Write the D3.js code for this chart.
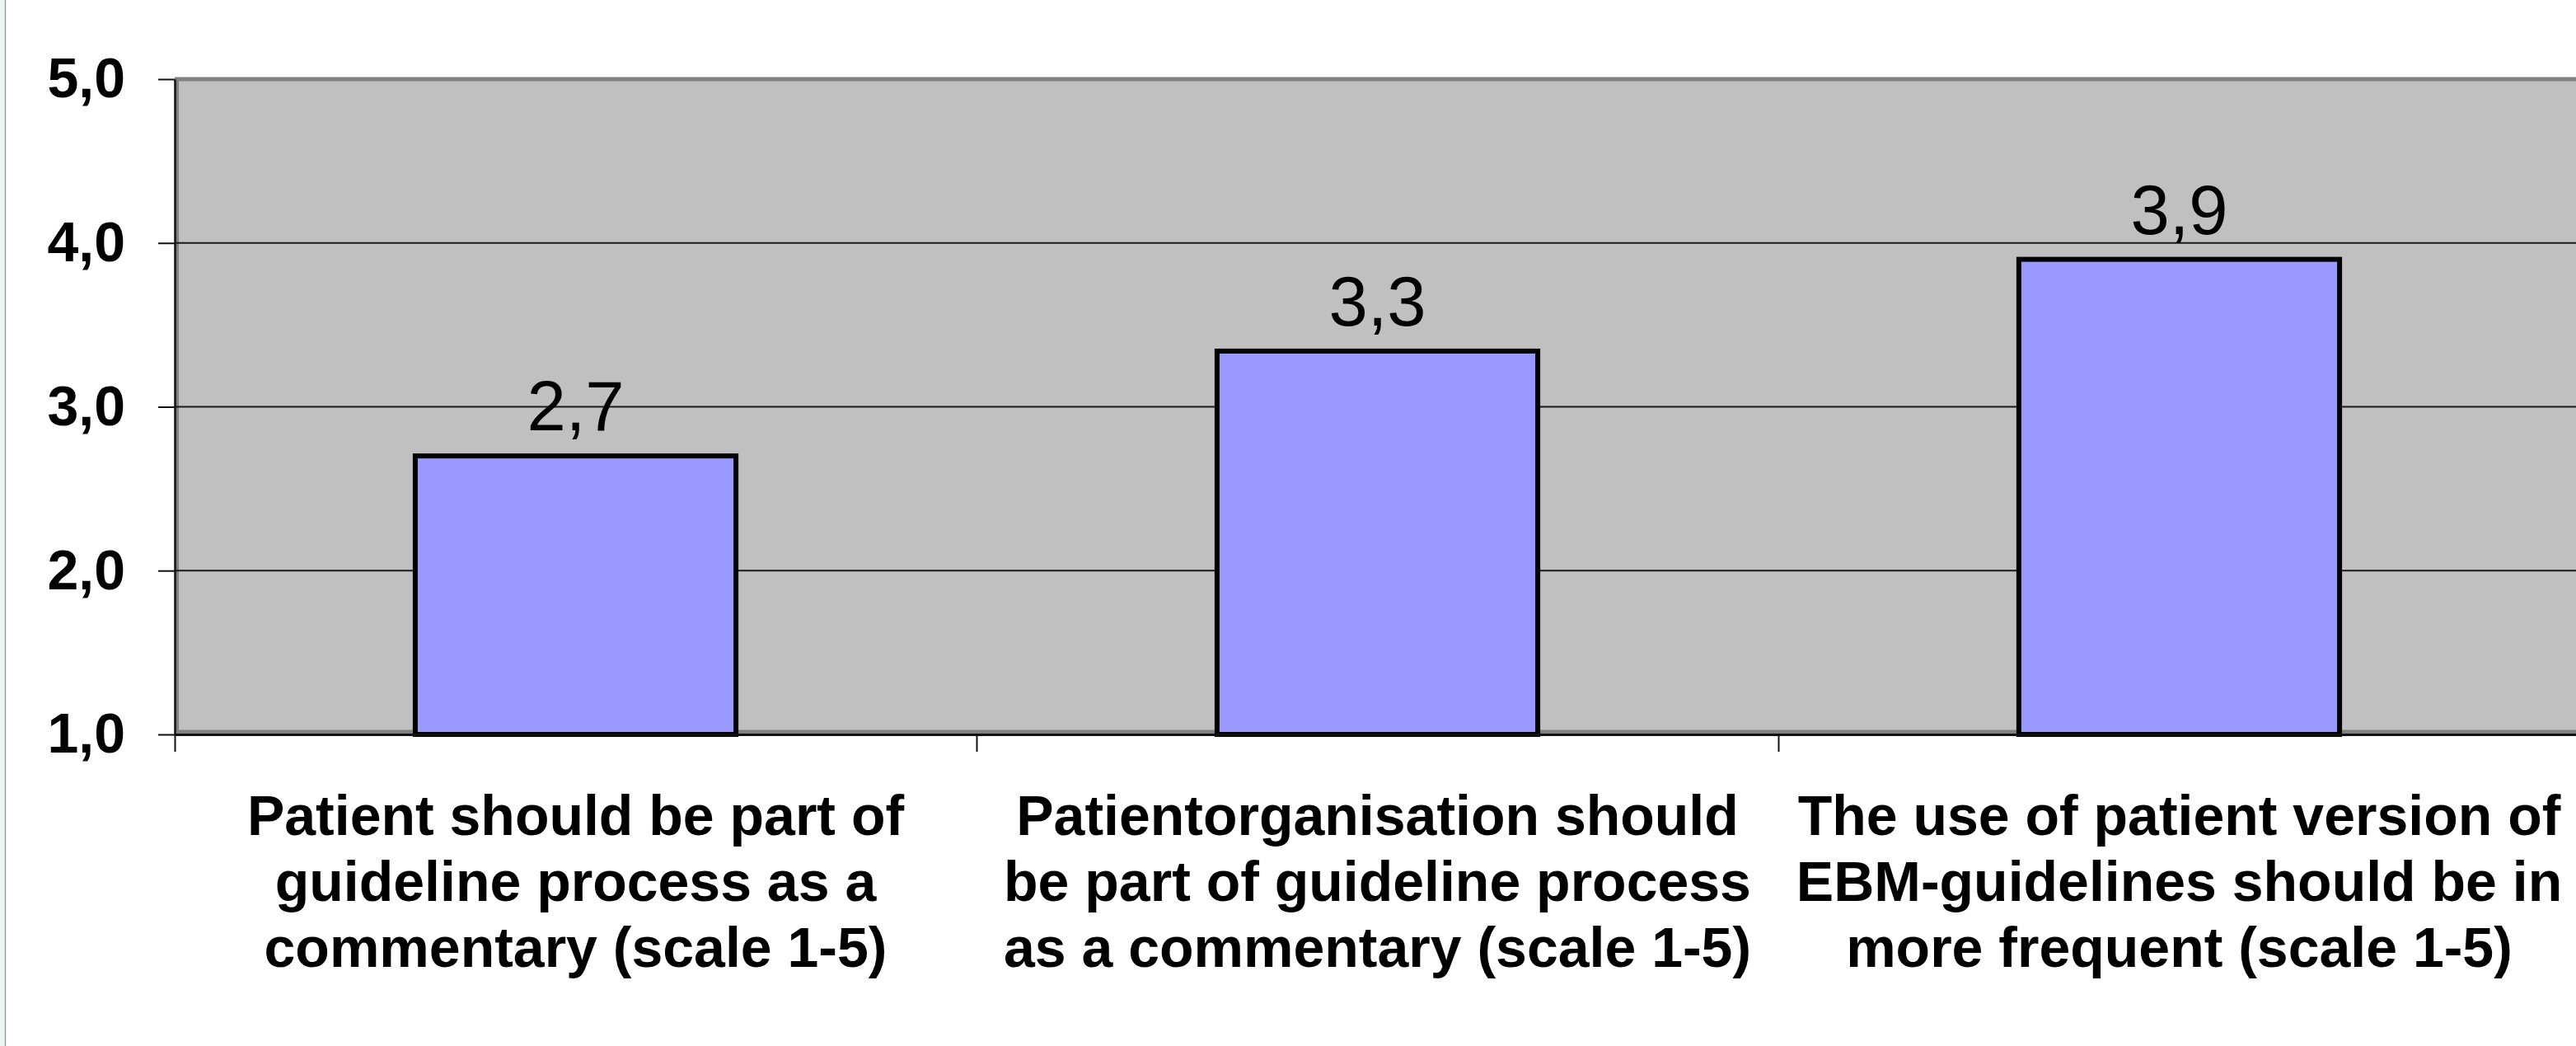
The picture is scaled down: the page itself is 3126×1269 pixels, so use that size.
<!DOCTYPE html>
<html>
<head>
<meta charset="utf-8">
<script src="https://cdn.jsdelivr.net/npm/d3@7"></script>
<style>
  body { margin: 0; background: #fff; }
  svg { display: block; font-family: "Liberation Sans", Arial, sans-serif; }
</style>
</head>
<body>
<svg id="chart" width="3126" height="1269"></svg>
<script>
// chart data
const categories = [
    ["Patient should be part of", "guideline process as a", "commentary (scale 1-5)"],
    ["Patientorganisation should", "be part of guideline process", "as a commentary (scale 1-5)"],
    ["The use of patient version of", "EBM-guidelines should be in", "more frequent (scale 1-5)"]
];
const values = [2.7, 3.34, 3.9];
const yTicks = [1, 2, 3, 4, 5];

const width = 3126, height = 1269;
const margin = { left: 212, right: -5, top: 96, bottom: 378 };

const svg = d3.select("#chart");

// comma as decimal separator, like the original
const fmt = d3.formatLocale({ decimal: ",", thousands: " ", grouping: [3], currency: ["", ""] }).format(".1f");

const x = d3.scaleBand()
    .domain(d3.range(values.length))
    .range([margin.left, width - margin.right])
    .paddingInner(0.6)
    .paddingOuter(0.3);

const xEdge = d3.scaleLinear()
    .domain([0, values.length])
    .range([margin.left, width - margin.right]);

const y = d3.scaleLinear()
    .domain([1, 5])
    .range([height - margin.bottom, margin.top]);

// thin frame at the very left of the picture
svg.append("rect").attr("x", 0).attr("y", 0).attr("width", 6).attr("height", height).attr("fill", "#eef3f3");
svg.append("line").attr("x1", 6.5).attr("x2", 6.5).attr("y1", 0).attr("y2", height)
    .attr("stroke", "#a0a0a0").attr("stroke-width", 1.5);

// plot area
const plotW = xEdge.range()[1] - margin.left;
const plotH = y(1) - y(5);
svg.append("rect")
    .attr("x", margin.left).attr("y", y(5) - 2)
    .attr("width", plotW).attr("height", plotH + 2)
    .attr("fill", "#c0c0c0");
svg.append("rect")
    .attr("x", margin.left + 2.5).attr("y", y(5))
    .attr("width", plotW).attr("height", plotH - 3)
    .attr("fill", "none")
    .attr("stroke", "#808080")
    .attr("stroke-width", 5);

// gridlines
svg.append("g")
    .selectAll("line")
    .data(yTicks.filter(d => d > 1 && d < 5))
    .join("line")
    .attr("x1", margin.left).attr("x2", xEdge.range()[1])
    .attr("y1", d => y(d)).attr("y2", d => y(d))
    .attr("stroke", "#1a1a1a")
    .attr("stroke-width", 2);

// bars
svg.append("g")
    .selectAll("rect")
    .data(values)
    .join("rect")
    .attr("x", (d, i) => x(i))
    .attr("y", d => y(d))
    .attr("width", x.bandwidth())
    .attr("height", d => y(1) - y(d))
    .attr("fill", "#9999ff")
    .attr("stroke", "#000")
    .attr("stroke-width", 6);

// value labels
svg.append("g")
    .selectAll("text")
    .data(values)
    .join("text")
    .attr("x", (d, i) => x(i) + x.bandwidth() / 2)
    .attr("y", d => y(d) - 31)
    .attr("text-anchor", "middle")
    .attr("font-size", 85)
    .attr("fill", "#000")
    .text(d => fmt(d));

// y axis
const yAxis = svg.append("g")
    .attr("transform", "translate(" + margin.left + ",0)")
    .call(d3.axisLeft(y).tickValues(yTicks).tickFormat(fmt).tickSize(20).tickSizeOuter(0).tickPadding(40));
yAxis.select(".domain").attr("stroke", "#111").attr("stroke-width", 2.5);
yAxis.selectAll(".tick line").attr("stroke", "#111").attr("stroke-width", 2);
yAxis.selectAll(".tick text")
    .attr("font-family", "'Liberation Sans', Arial, sans-serif")
    .attr("font-size", 68)
    .attr("font-weight", "bold")
    .attr("fill", "#000");

// x axis with boundary ticks
const xAxis = svg.append("g")
    .attr("transform", "translate(0," + y(1) + ")")
    .call(d3.axisBottom(xEdge).ticks(values.length).tickFormat("").tickSize(21).tickSizeOuter(0));
xAxis.select(".domain").attr("stroke", "#111").attr("stroke-width", 3);
xAxis.selectAll(".tick line").attr("stroke", "#111").attr("stroke-width", 2);

// category labels
const catLabels = svg.append("g")
    .selectAll("text")
    .data(categories)
    .join("text")
    .attr("text-anchor", "middle")
    .attr("font-size", 68)
    .attr("font-weight", "bold")
    .attr("fill", "#000");

catLabels.selectAll("tspan")
    .data((d, i) => d.map(line => ({ line, i })))
    .join("tspan")
    .attr("x", d => x(d.i) + x.bandwidth() / 2)
    .attr("y", (d, j) => 1013 + j * 80)
    .text(d => d.line);
</script>
</body>
</html>
